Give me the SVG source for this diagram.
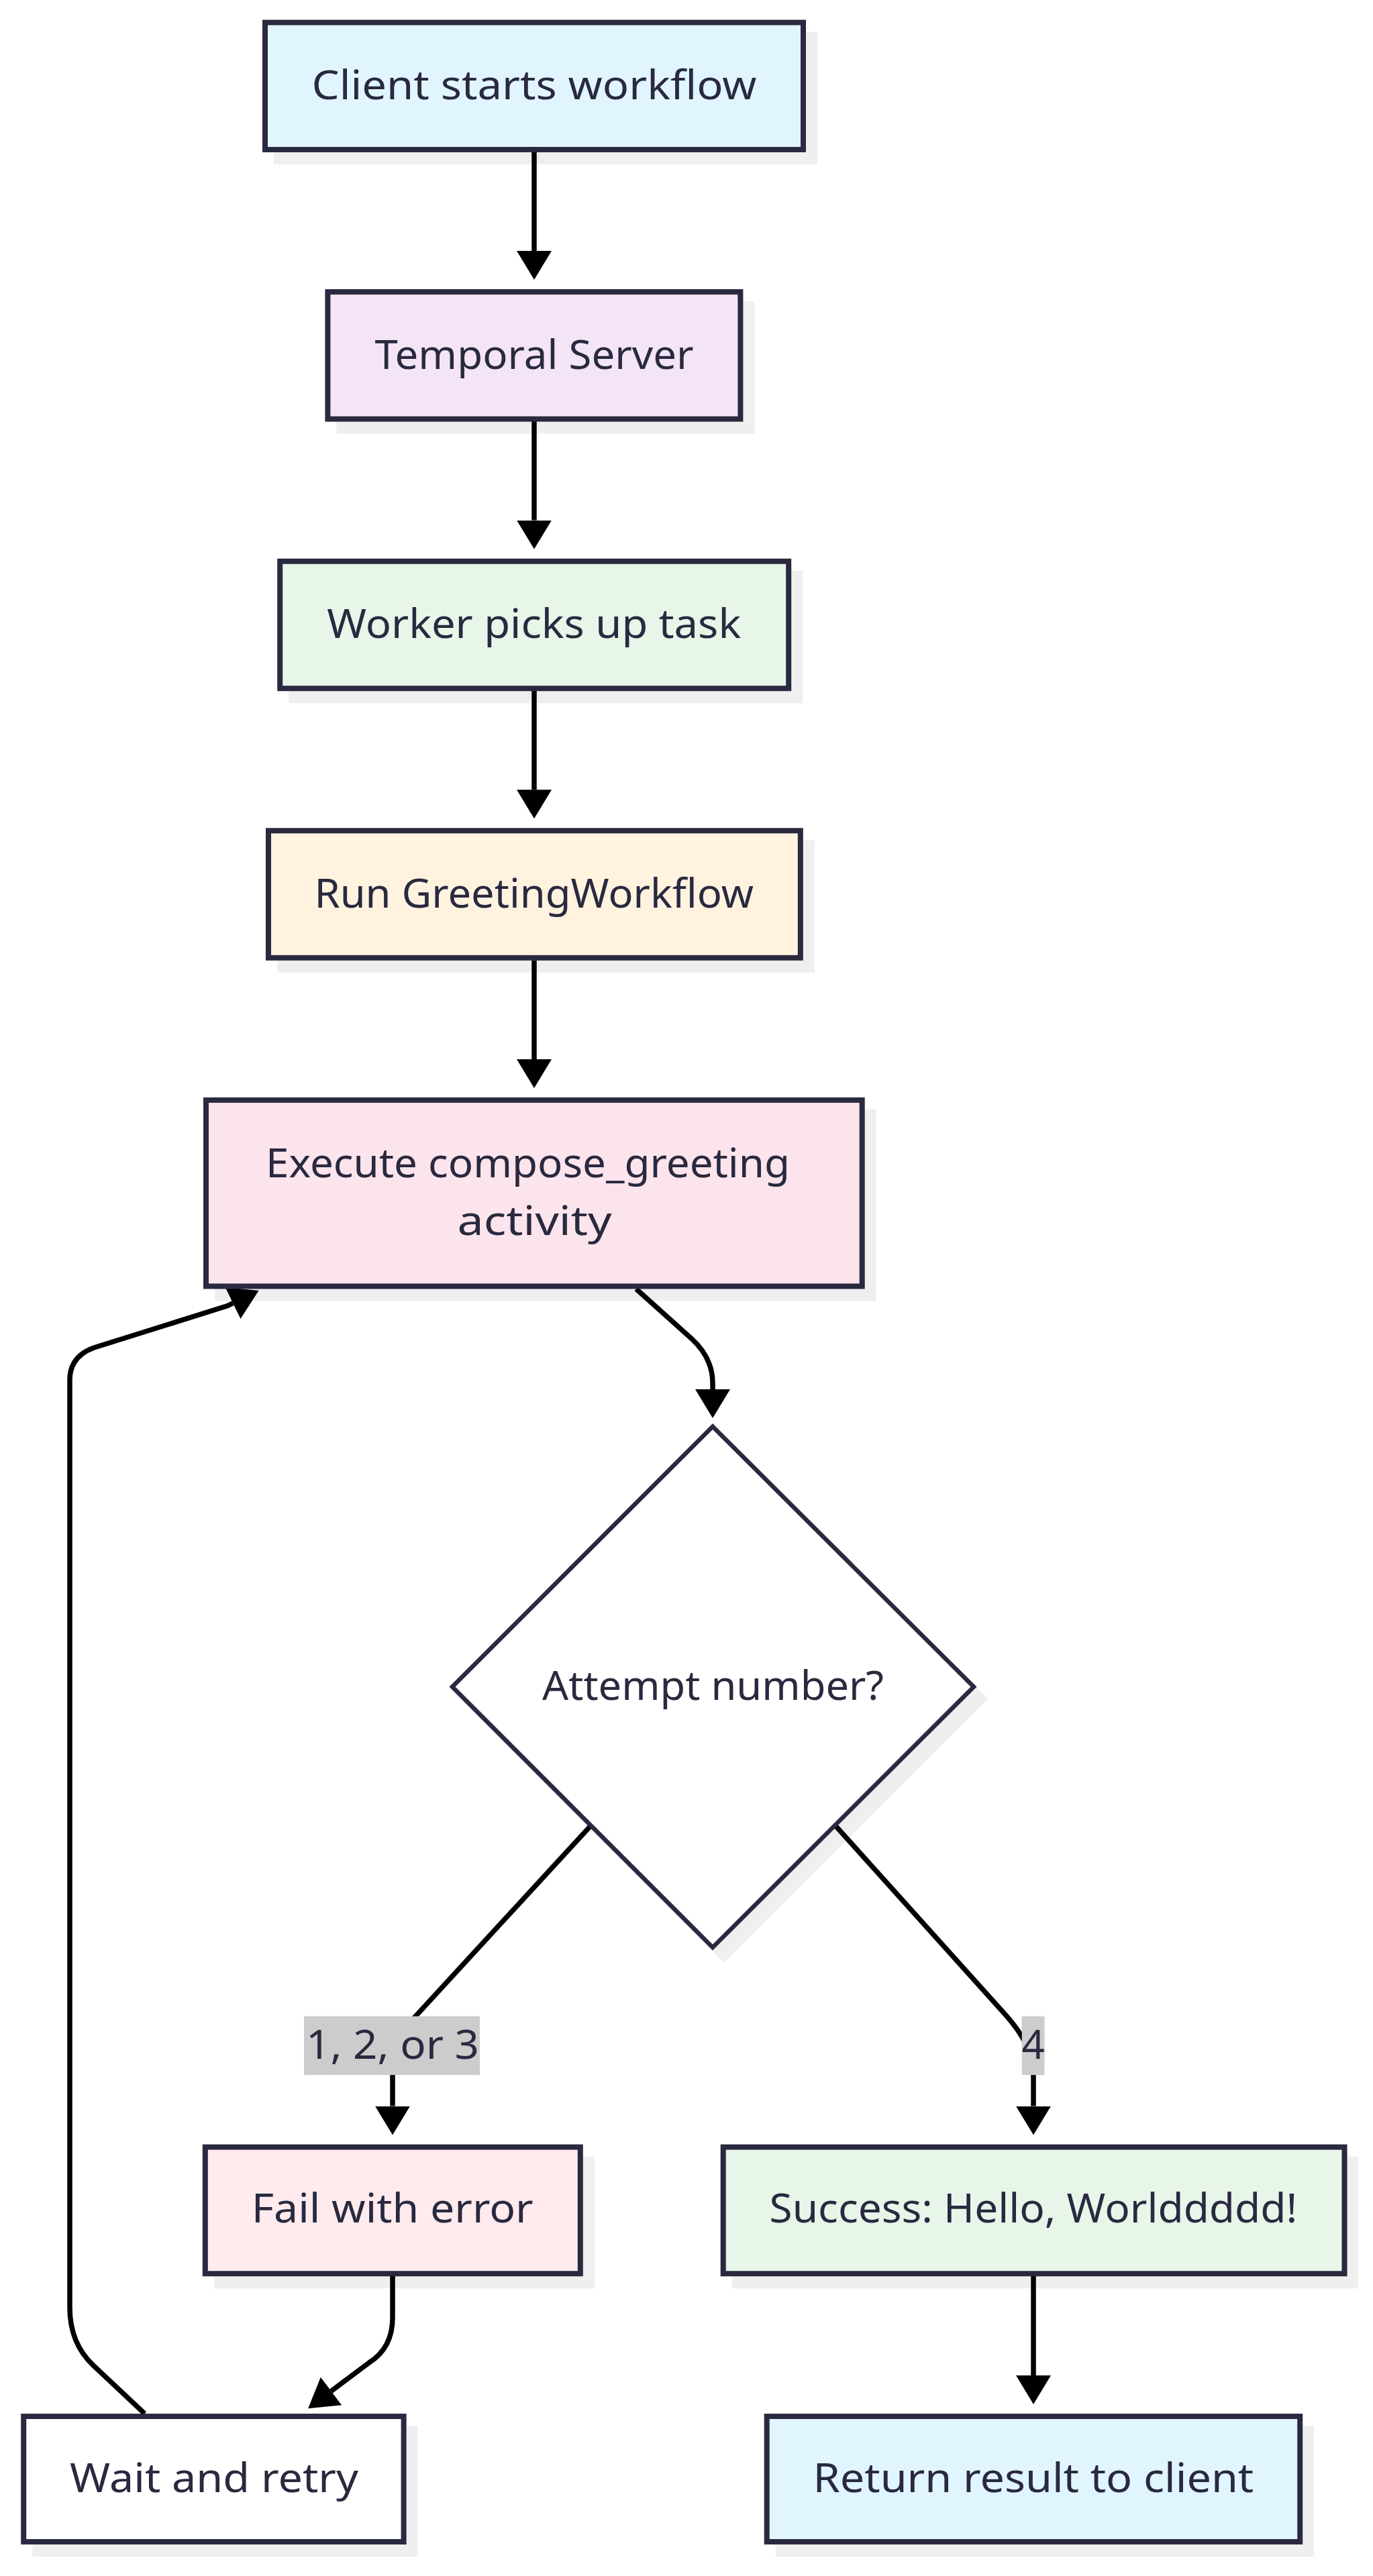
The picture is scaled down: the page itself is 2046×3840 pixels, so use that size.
<svg xmlns="http://www.w3.org/2000/svg" width="2046" height="3840" viewBox="0 0 2046 3840">
<style>
.node rect.box{stroke:#29293f;stroke-width:8}
.shadow{fill:#efefef}
.lbl{font-family:"Noto Sans","Open Sans","DejaVu Sans",sans-serif;font-size:60px;fill:#29293f;text-anchor:middle}
.edge{fill:none;stroke:#000;stroke-width:7.5;marker-end:url(#arr)}
.elbg{fill:#cccccc}
</style>
<defs>
<marker id="arr" markerUnits="userSpaceOnUse" markerWidth="43" markerHeight="52" viewBox="0 0 43 52" refX="0" refY="26" orient="auto">
<path d="M0,0 L43,26 L0,52 z" fill="#000"/>
</marker>
</defs>
<rect width="2046" height="3840" fill="#fff"/>

<g id="shadows">
<rect class="shadow" x="408" y="47.5" width="810" height="197.5"/>
<rect class="shadow" x="501.4" y="449.1" width="623" height="197.5"/>
<rect class="shadow" x="430.2" y="850.7" width="766" height="197.5"/>
<rect class="shadow" x="413" y="1252.3" width="800.8" height="197.5"/>
<rect class="shadow" x="320" y="1653.9" width="985.7" height="285.5"/>
<polygon points="1079,2144.5 1468,2532.5 1079,2921 691,2532.5" fill="#efefef" stroke="#efefef" stroke-width="6.5"/>
<rect class="shadow" x="318.8" y="3214.6" width="567" height="196.7"/>
<rect class="shadow" x="1090.7" y="3214.6" width="933.8" height="196.7"/>
<rect class="shadow" x="48.2" y="3616" width="574.4" height="195"/>
<rect class="shadow" x="1155.7" y="3616" width="802.5" height="195"/>
</g>

<g id="connectors">
<path class="edge" d="M796,227 L796,374"/>
<path class="edge" d="M796,627.7 L796,775.6"/>
<path class="edge" d="M796,1030 L796,1177.3"/>
<path class="edge" d="M796,1431.8 L796,1579"/>
<path class="edge" d="M948,1921.4 L1030,1995 C1050,2013 1062,2035 1062,2062 L1062,2071"/>
<path class="edge" d="M880.8,2721 L617,3008 Q585,3043 585,3085 L585,3139.6"/>
<path class="edge" d="M1244.5,2721 L1498,3003 Q1540,3050 1540,3090 L1540,3139.6"/>
<path class="edge" d="M585,3392 L585,3455 Q585,3500 550,3522 L493.5,3564.4"/>
<path class="edge" d="M1540,3392 L1540,3541"/>
<path class="edge" d="M215.6,3598 L139,3526 Q104,3493 104,3440 L104,2057 Q104,2022 140,2009 L339,1946.5 L347,1942.6"/>
<g id="label-123">
<rect class="elbg" x="453" y="3005.6" width="262" height="87.6"/>
<text class="lbl" x="585" y="3068.6" textLength="258" lengthAdjust="spacingAndGlyphs">1, 2, or 3</text>
</g>
<g id="label-4">
<rect class="elbg" x="1522.7" y="3005.6" width="33.8" height="87.6"/>
<text class="lbl" x="1539.6" y="3068.6">4</text>
</g>
</g>

<g id="client" class="node">
<rect class="box" x="395" y="33.5" width="802" height="189.5" fill="#e1f5fe"/>
<text class="lbl" x="796" y="148.4" textLength="663" lengthAdjust="spacingAndGlyphs">Client starts workflow</text>
</g>

<g id="temporal" class="node">
<rect class="box" x="488.4" y="435.1" width="615" height="189.5" fill="#f3e5f5"/>
<text class="lbl" x="796" y="550" textLength="475" lengthAdjust="spacingAndGlyphs">Temporal Server</text>
</g>

<g id="worker" class="node">
<rect class="box" x="417.2" y="836.7" width="758" height="189.5" fill="#e8f5e9"/>
<text class="lbl" x="795.7" y="951.4" textLength="617" lengthAdjust="spacingAndGlyphs">Worker picks up task</text>
</g>

<g id="run" class="node">
<rect class="box" x="400" y="1238.3" width="792.8" height="189.5" fill="#fff3e0"/>
<text class="lbl" x="795.7" y="1352.5" textLength="654.5" lengthAdjust="spacingAndGlyphs">Run GreetingWorkflow</text>
</g>

<g id="execute" class="node">
<rect class="box" x="307" y="1639.9" width="977.7" height="277.5" fill="#fce4ec"/>
<text class="lbl" x="786.6" y="1755.4" textLength="781" lengthAdjust="spacingAndGlyphs">Execute compose_greeting</text>
<text class="lbl" x="796.6" y="1841" textLength="230" lengthAdjust="spacingAndGlyphs">activity</text>
</g>

<g id="decision" class="node">
<polygon points="1062,2126.5 1451,2514.5 1062,2903 674,2514.5" fill="#fff" stroke="#29293f" stroke-width="6.5"/>
<text class="lbl" x="1062.5" y="2533.7" textLength="509" lengthAdjust="spacingAndGlyphs">Attempt number?</text>
</g>

<g id="fail" class="node">
<rect class="box" x="305.8" y="3200.6" width="559" height="188.7" fill="#ffebee"/>
<text class="lbl" x="584.7" y="3312.7" textLength="420" lengthAdjust="spacingAndGlyphs">Fail with error</text>
</g>

<g id="success" class="node">
<rect class="box" x="1077.7" y="3200.6" width="925.8" height="188.7" fill="#e8f5e9"/>
<text class="lbl" x="1539.9" y="3312.7" textLength="786.6" lengthAdjust="spacingAndGlyphs">Success: Hello, Worlddddd!</text>
</g>

<g id="wait" class="node">
<rect class="box" x="35.2" y="3602" width="566.4" height="187" fill="#ffffff"/>
<text class="lbl" x="319" y="3715.3" textLength="430" lengthAdjust="spacingAndGlyphs">Wait and retry</text>
</g>

<g id="return" class="node">
<rect class="box" x="1142.7" y="3602" width="794.5" height="187" fill="#e1f5fe"/>
<text class="lbl" x="1539.9" y="3715.3" textLength="656.6" lengthAdjust="spacingAndGlyphs">Return result to client</text>
</g>
</svg>
